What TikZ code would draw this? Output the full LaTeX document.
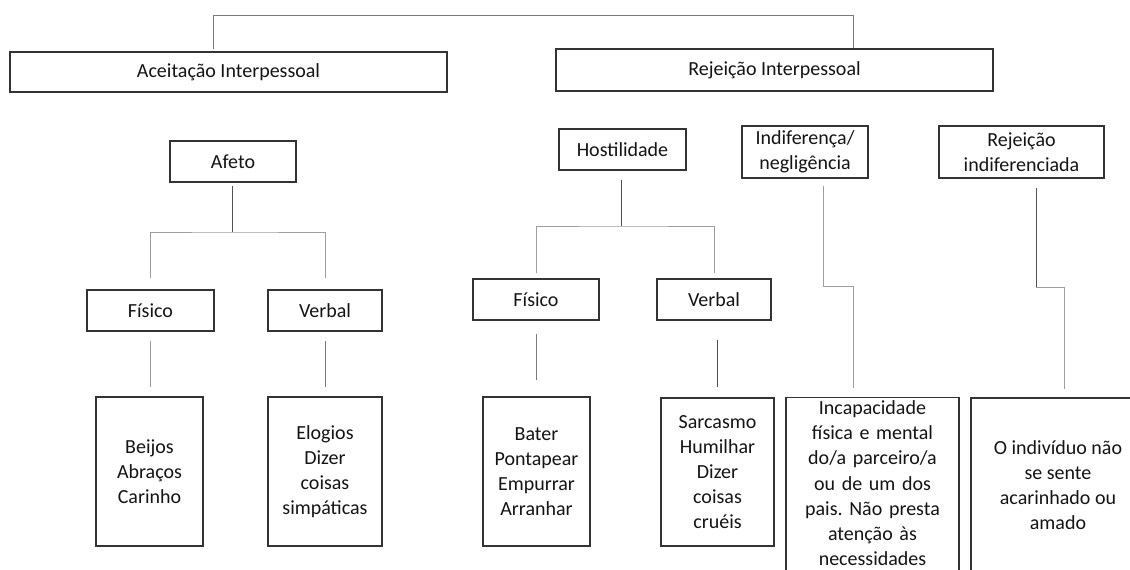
\documentclass[tikz,border=0pt]{standalone}
\usepackage{fontspec}
\setmainfont{Carlito}
\usetikzlibrary{calc}
\frenchspacing
\tikzset{
  bx/.style={draw=black!80, line width=1.1pt, rectangle, inner sep=0pt, align=center,
    text=black!92, font=\fontsize{20}{25.2}\selectfont},
  conndark/.style={draw=black!68, line width=1pt},
  connmid/.style={draw=black!52, line width=1pt},
  connlight/.style={draw=black!38, line width=1pt},
}
\begin{document}
\begin{tikzpicture}[x=1pt,y=-1pt]
\useasboundingbox (0,0) rectangle (1130,570);
\clip (0,0) rectangle (1130,570);
\fill[white] (0,0) rectangle (1130,570);

% level 1
\node[bx, minimum width=437, minimum height=40] (aceit) at (228.5,72) {Aceitação Interpessoal};
\node[bx, minimum width=437, minimum height=42] (rejei) at (774.5,70) {Rejeição Interpessoal};

% level 2
\node[bx, minimum width=126, minimum height=41] (afeto) at (233,161.5) {Afeto};
\node[bx, minimum width=127, minimum height=41] (hostil) at (622.5,149.5) {Hostilidade};
\node[bx, minimum width=126, minimum height=52] (indif) at (805,152) {Indiferença/\\negligência};
\node[bx, minimum width=165, minimum height=52] (rejind) at (1021.5,152) {Rejeição\\indiferenciada};

% level 3
\node[bx, minimum width=127, minimum height=41] (fis1) at (150.5,310.5) {Físico};
\node[bx, minimum width=114, minimum height=41] (verb1) at (325,310.5) {Verbal};
\node[bx, minimum width=126, minimum height=41] (fis2) at (536,299.5) {Físico};
\node[bx, minimum width=114, minimum height=41] (verb2) at (714,299.5) {Verbal};

% level 4
\node[bx, minimum width=107, minimum height=149] (beijos) at (149.5,471.5) {Beijos\\Abraços\\Carinho};
\node[bx, minimum width=114, minimum height=149] (elog) at (325,471.5) {Elogios\\Dizer\\coisas\\simpáticas};
\node[bx, minimum width=107, minimum height=149] (bater) at (536.5,471.5) {Bater\\Pontapear\\Empurrar\\Arranhar};
\node[bx, minimum width=113, minimum height=148] (sarc) at (717.5,472) {Sarcasmo\\Humilhar\\Dizer\\coisas\\cruéis};
\node[bx, anchor=north, text width=173, minimum width=173, inner ysep=3pt] (incap) at (872.5,397)
  {Incapacidade\\física e mental\\do/a parceiro/a\\ou de um dos\\pais. Não presta\\atenção às\\necessidades\\\mbox{}};
\node[bx, minimum width=174, minimum height=174] (indiv) at (1058,485) {O indivíduo não\\se sente\\acarinhado ou\\amado};

% branch points
\coordinate (topL) at (213,15);
\coordinate (topR) at (853,15);
\coordinate (afb) at (232,232);
\coordinate (hb) at (621,226);
\coordinate (ib1) at (823,286);
\coordinate (ib2) at (853,286);
\coordinate (rb1) at (1036,287);
\coordinate (rb2) at (1064,287);

% connectors
\draw[connmid] ([yshift=2pt]aceit.north -| topL) -- (topL) -- (topR) -- (rejei.north -| topR);

\draw[conndark] ([yshift=-3pt]afeto.south -| afb) -- (afb);
\draw[connlight] ([yshift=11pt]fis1.north) |- (afb) -| ([yshift=11pt]verb1.north);
\draw[connlight] ([yshift=-9pt]fis1.south) -- ([yshift=9pt]fis1.south |- beijos.north);
\draw[connmid] ([yshift=-9pt]verb1.south) -- ([yshift=9pt]verb1.south |- elog.north);

\draw[conndark] ([yshift=-9pt]hostil.south -| hb) -- (hb);
\draw[connlight] ([yshift=5pt]fis2.north) |- (hb) -| ([yshift=5pt]verb2.north);
\draw[connmid] ([yshift=-13pt]fis2.south) -- ([yshift=16pt]fis2.south |- bater.north);
\draw[conndark] ([yshift=-19pt]verb2.south -| sarc.north) -- ([yshift=10pt]sarc.north);

\draw[connlight] ([yshift=-7pt]indif.south -| ib1) -- (ib1) -- (ib2) -- ([yshift=9pt]incap.north -| ib2);
\draw[conndark] ([yshift=-9pt]rejind.south -| rb1) -- (rb1);
\draw[connlight] (rb1) -- (rb2) -- ([yshift=8pt]indiv.north -| rb2);
\end{tikzpicture}
\end{document}
